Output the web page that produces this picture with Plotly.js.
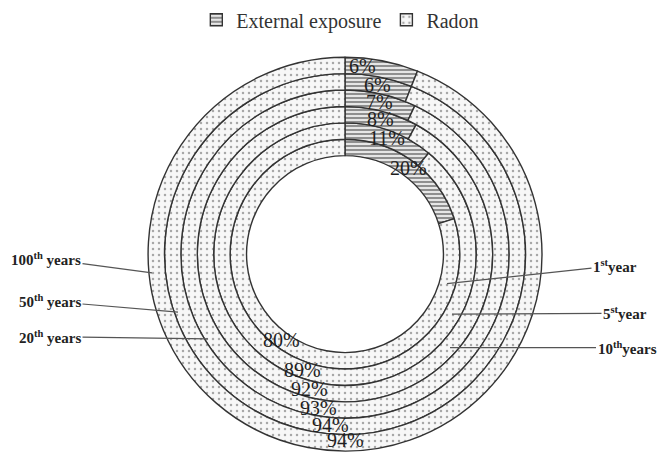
<!DOCTYPE html>
<html>
<head>
<meta charset="utf-8">
<script src="https://cdn.plot.ly/plotly-3.0.1.min.js"></script>
<style>html,body{margin:0;padding:0;background:#fff;}#chart{width:657px;height:453px;}</style>
</head>
<body>
<div id="chart"></div>
<script>
// ---- data ----
const seriesNames = ['External exposure', 'Radon'];
const ringNames = ['1<sup>st</sup>year', '5<sup>st</sup>year', '10<sup>th</sup>years', '20<sup>th</sup> years', '50<sup>th</sup> years', '100<sup>th</sup> years'];
const externalPct = [20, 11, 8, 7, 6, 6];
const radonPct = [80, 89, 92, 93, 94, 94];

// ---- layout / geometry (pixels) ----
const W = 657, H = 453;
const CX = 345, CY = 251, R_OUT = 200, R_HOLE = 100;
const nRings = ringNames.length;
const T = (R_OUT - R_HOLE) / nRings;
// small angular nudges (deg) and radial nudges (px) for label placement, per ring
const extNudge = [0, 0, 0, 0, 0, -5.5];
const radNudge = [0, 0, 0, -3, -6, -11];
const radRadial = [0, 0, 0, 0, -1, -3];
// ring label leader lines: point in ring and text centre
const ringLabelPos = [
  {pt: [447, 281], txt: [615, 263]},
  {pt: [452, 312], txt: [625, 311]},
  {pt: [450, 346], txt: [627, 346]},
  {pt: [208, 337], txt: [50, 335]},
  {pt: [178, 310], txt: [50, 299]},
  {pt: [152, 270], txt: [46, 256]}
];

const extPattern = {shape: '-', fgcolor: '#555555', bgcolor: '#e6e6e6', size: 4, solidity: 0.3};
const radPattern = {shape: '.', fgcolor: '#a8a8a8', bgcolor: '#f7f7f7', size: 6, solidity: 0.14};

const traces = [];
const annotations = [];
const px2x = p => p / W;
const px2y = p => 1 - p / H;

for (let i = 0; i < nRings; i++) {
  const R = R_HOLE + T * (i + 1);
  const vals = [externalPct[i], radonPct[i]];
  traces.push({
    type: 'pie',
    labels: seriesNames,
    values: vals,
    sort: false,
    direction: 'clockwise',
    rotation: 0,
    hole: (R - T) / R,
    textinfo: 'none',
    hoverinfo: 'label+percent',
    showlegend: i === 0,
    domain: {x: [px2x(CX - R), px2x(CX + R)], y: [px2y(CY + R), px2y(CY - R)]},
    marker: {
      colors: [extPattern.bgcolor, radPattern.bgcolor],
      pattern: {
        shape: [extPattern.shape, radPattern.shape],
        fgcolor: [extPattern.fgcolor, radPattern.fgcolor],
        bgcolor: [extPattern.bgcolor, radPattern.bgcolor],
        size: [extPattern.size, radPattern.size],
        solidity: [extPattern.solidity, radPattern.solidity]
      },
      line: {color: '#333333', width: 1.4}
    }
  });
  // percentage labels at slice centres
  const total = vals[0] + vals[1];
  const rMid = R - T / 2;
  const aExt = (vals[0] / total) * 180 + extNudge[i];
  const aRad = (vals[0] / total) * 360 + (vals[1] / total) * 180 + radNudge[i];
  [[aExt, vals[0], 0], [aRad, vals[1], radRadial[i]]].forEach(([a, v, dr]) => {
    const th = a * Math.PI / 180;
    const r = rMid + dr;
    annotations.push({
      xref: 'paper', yref: 'paper',
      x: px2x(CX + r * Math.sin(th)), y: px2y(CY - r * Math.cos(th)),
      text: v + '%', showarrow: false, xanchor: 'center', yanchor: 'middle',
      font: {family: 'Liberation Serif', size: 20, color: '#1e1e1e'}
    });
  });
  // ring name with leader line
  const lp = ringLabelPos[i];
  annotations.push({
    xref: 'paper', yref: 'paper',
    x: px2x(lp.pt[0]), y: px2y(lp.pt[1]),
    ax: lp.txt[0] - lp.pt[0], ay: lp.txt[1] - lp.pt[1],
    text: '<b>' + ringNames[i] + '</b>',
    showarrow: true, arrowhead: 0, arrowwidth: 1.2, arrowcolor: '#555',
    standoff: 0, startstandoff: 0,
    font: {family: 'Liberation Serif', size: 15, color: '#222'}
  });
}

const layout = {
  width: W, height: H,
  margin: {l: 0, r: 0, t: 0, b: 0},
  paper_bgcolor: '#fff',
  showlegend: true,
  legend: {
    orientation: 'h', x: 0.518, xanchor: 'center', y: 1.015, yanchor: 'top',
    font: {family: 'Liberation Serif', size: 20, color: '#333'},
    bgcolor: 'rgba(0,0,0,0)', itemwidth: 30
  },
  annotations: annotations
};

Plotly.newPlot('chart', traces, layout, {displayModeBar: false, staticPlot: true});
</script>
</body>
</html>
